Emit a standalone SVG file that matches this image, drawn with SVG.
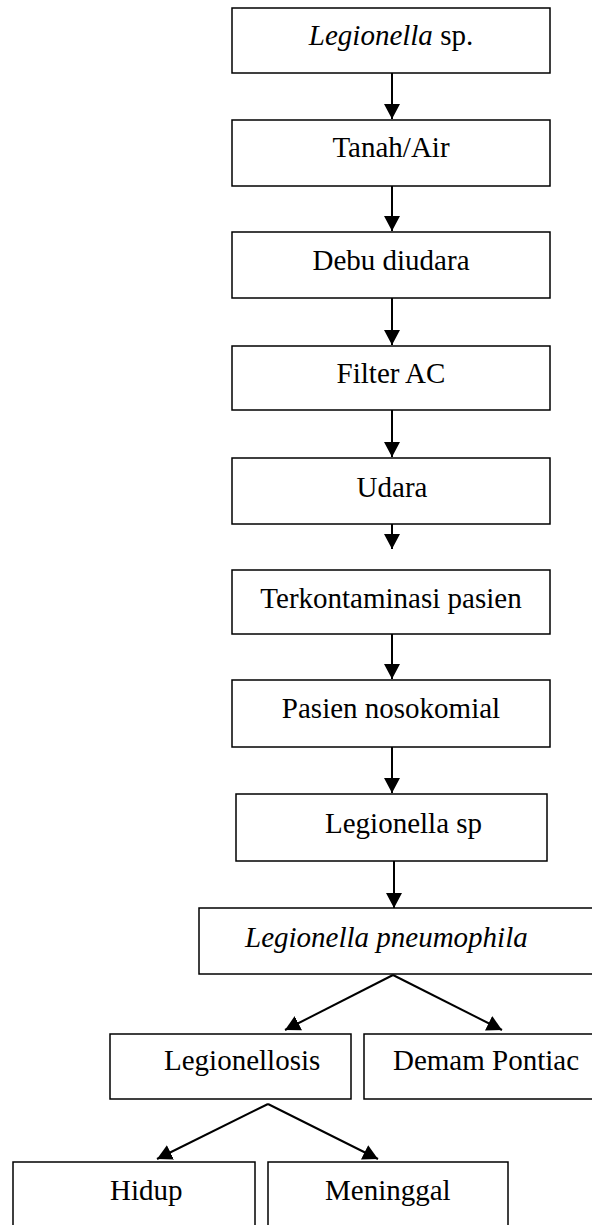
<svg xmlns="http://www.w3.org/2000/svg" width="592" height="1225" viewBox="0 0 592 1225">
  <style>
    .box { fill: #ffffff; stroke: #000000; stroke-width: 1.5; }
    .lbl { font-family: "Liberation Serif", "Times New Roman", serif; font-size: 29px; fill: #000000; }
    .c { text-anchor: middle; }
    .it { font-style: italic; }
    .edge { stroke: #000000; stroke-width: 2; fill: none; marker-end: url(#arrow); }
  </style>
  <defs>
    <marker id="arrow" markerUnits="userSpaceOnUse" markerWidth="16" markerHeight="16" refX="15" refY="8" orient="auto">
      <path d="M0,0 L15,8 L0,16 Z" fill="#000000"/>
    </marker>
  </defs>
  <rect width="592" height="1225" fill="#ffffff"/>

  <g id="connectors">
    <line class="edge" x1="392" y1="73" x2="392" y2="119"/>
    <line class="edge" x1="392" y1="186" x2="392" y2="231"/>
    <line class="edge" x1="392" y1="298" x2="392" y2="345"/>
    <line class="edge" x1="392" y1="410" x2="392" y2="457"/>
    <line class="edge" x1="392" y1="524" x2="392" y2="549"/>
    <line class="edge" x1="392" y1="634" x2="392" y2="679"/>
    <line class="edge" x1="392" y1="747" x2="392" y2="793"/>
    <line class="edge" x1="394" y1="861" x2="394" y2="908"/>
    <line class="edge" x1="393" y1="975" x2="285" y2="1030"/>
    <line class="edge" x1="393" y1="975" x2="502" y2="1030"/>
    <line class="edge" x1="268" y1="1104" x2="157" y2="1159"/>
    <line class="edge" x1="268" y1="1104" x2="378" y2="1159"/>
  </g>

  <g id="n-legionella">
    <rect class="box" x="232" y="8" width="318" height="65"/>
    <text class="lbl c" x="391" y="45"><tspan class="it">Legionella</tspan> sp.</text>
  </g>
  <g id="n-tanah-air">
    <rect class="box" x="232" y="120" width="318" height="66"/>
    <text class="lbl c" x="391" y="157">Tanah/Air</text>
  </g>
  <g id="n-debu">
    <rect class="box" x="232" y="232" width="318" height="66"/>
    <text class="lbl c" x="391" y="270">Debu diudara</text>
  </g>
  <g id="n-filter">
    <rect class="box" x="232" y="346" width="318" height="64"/>
    <text class="lbl c" x="391" y="383">Filter AC</text>
  </g>
  <g id="n-udara">
    <rect class="box" x="232" y="458" width="318" height="66"/>
    <text class="lbl c" x="392" y="497">Udara</text>
  </g>
  <g id="n-terkontaminasi">
    <rect class="box" x="232" y="570" width="318" height="64"/>
    <text class="lbl c" x="391" y="608">Terkontaminasi pasien</text>
  </g>
  <g id="n-nosokomial">
    <rect class="box" x="232" y="680" width="318" height="67"/>
    <text class="lbl c" x="391" y="718">Pasien nosokomial</text>
  </g>
  <g id="n-legionella-sp">
    <rect class="box" x="236" y="794" width="311" height="67"/>
    <text class="lbl" x="325" y="833">Legionella sp</text>
  </g>
  <g id="n-pneumophila">
    <rect class="box" x="199" y="908" width="400" height="66"/>
    <text class="lbl it" x="245" y="947">Legionella pneumophila</text>
  </g>
  <g id="n-legionellosis">
    <rect class="box" x="110" y="1034" width="241" height="65"/>
    <text class="lbl" x="164" y="1070">Legionellosis</text>
  </g>
  <g id="n-pontiac">
    <rect class="box" x="364" y="1034" width="235" height="65"/>
    <text class="lbl" x="393" y="1070">Demam Pontiac</text>
  </g>
  <g id="n-hidup">
    <rect class="box" x="13" y="1162" width="242" height="70"/>
    <text class="lbl" x="110" y="1200">Hidup</text>
  </g>
  <g id="n-meninggal">
    <rect class="box" x="268" y="1162" width="240" height="70"/>
    <text class="lbl" x="325" y="1200">Meninggal</text>
  </g>
</svg>
